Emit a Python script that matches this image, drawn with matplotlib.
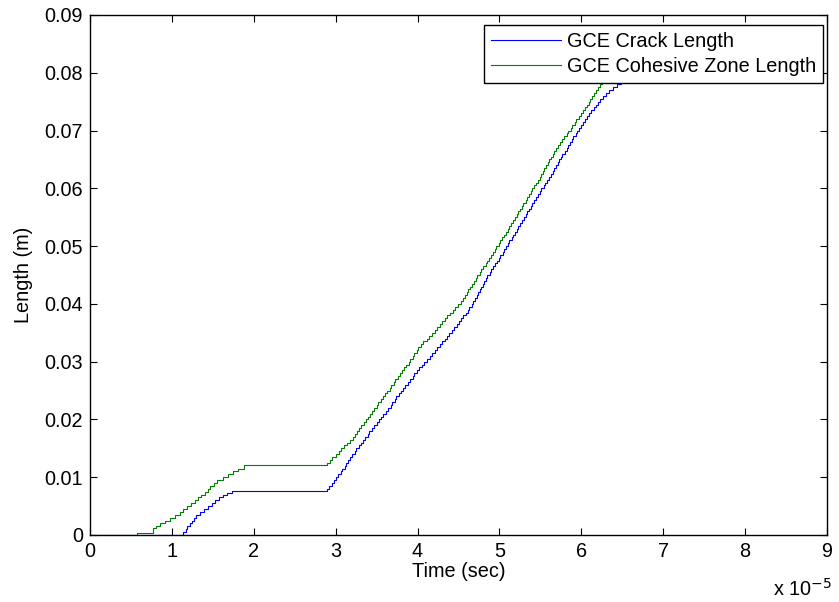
import numpy as np
from matplotlib import pyplot as plt

# time in units of 1e-5 s, lengths in mm (converted to m when plotted)
crack_t_start = [0, 1.14, 1.17, 1.19, 1.22, 1.24, 1.27, 1.30, 1.34, 1.39, 1.44, 1.49, 1.53, 1.58, 1.63, 1.67, 1.73]
crack_len_start = [0, 0.5, 1.0, 1.5, 2.0, 2.5, 3.0, 3.5, 4.0, 4.5, 5.0, 5.5, 6.0, 6.5, 7.0, 7.2, 7.7]

crack_t_grow = [2.89, 2.92, 2.95,
                2.98, 3.01, 3.03, 3.06, 3.08, 3.11, 3.13, 3.15, 3.18, 3.20,
                3.23, 3.25, 3.28, 3.31, 3.33, 3.36, 3.39, 3.41,
                3.44, 3.47, 3.50, 3.53, 3.55, 3.58, 3.61,
                3.64, 3.67, 3.69, 3.72, 3.74, 3.77, 3.80, 3.82,
                3.85, 3.88, 3.91, 3.94, 3.96, 3.99, 4.02,
                4.05, 4.08, 4.12, 4.15, 4.18, 4.21,
                4.24, 4.27, 4.30, 4.33, 4.36, 4.39, 4.42,
                4.45, 4.48, 4.51, 4.53, 4.56,
                4.59, 4.61, 4.63, 4.66, 4.68,
                4.70, 4.72, 4.74, 4.76, 4.78, 4.80, 4.81, 4.83,
                4.85, 4.88, 4.90, 4.92, 4.95, 4.97, 4.99, 5.01, 5.04,
                5.06, 5.08, 5.10, 5.12, 5.15, 5.17, 5.19, 5.21, 5.23,
                5.25, 5.28, 5.30, 5.32, 5.34, 5.36, 5.38, 5.40, 5.42, 5.45,
                5.47, 5.49, 5.51, 5.54, 5.56, 5.58, 5.61, 5.63, 5.65,
                5.67, 5.69, 5.71, 5.73, 5.75, 5.77, 5.80, 5.82, 5.84, 5.86,
                5.88, 5.90, 5.93, 5.95, 5.97, 6.00, 6.02, 6.04,
                6.07, 6.09, 6.12, 6.15, 6.18, 6.20, 6.23, 6.26,
                6.30, 6.34, 6.39, 6.43,
                6.48, 6.52, 6.56, 6.60, 6.64]
crack_len_grow = [8.0, 8.5, 9.0,
                  9.5, 10.0, 10.5, 11.0, 11.5, 12.0, 12.5, 13.0, 13.5, 14.0,
                  14.5, 15.0, 15.5, 16.0, 16.5, 17.0, 17.5, 18.0,
                  18.5, 19.0, 19.5, 20.0, 20.5, 21.0, 21.5,
                  22.0, 22.5, 23.0, 23.5, 24.0, 24.5, 25.0, 25.5,
                  26.0, 26.5, 27.0, 27.5, 28.0, 28.5, 29.0,
                  29.5, 30.0, 30.5, 31.0, 31.5, 32.0,
                  32.5, 33.0, 33.5, 34.0, 34.5, 35.0, 35.5,
                  36.0, 36.5, 37.0, 37.5, 38.0,
                  38.5, 39.0, 39.5, 40.0, 40.5,
                  41.0, 41.5, 42.0, 42.5, 43.0, 43.5, 44.0, 44.5,
                  45.0, 45.5, 46.0, 46.5, 47.0, 47.5, 48.0, 48.5, 49.0,
                  49.5, 50.0, 50.5, 51.0, 51.5, 52.0, 52.5, 53.0, 53.5,
                  54.0, 54.5, 55.0, 55.5, 56.0, 56.5, 57.0, 57.5, 58.0, 58.5,
                  59.0, 59.5, 60.0, 60.5, 61.0, 61.5, 62.0, 62.5, 63.0,
                  63.5, 64.0, 64.5, 65.0, 65.5, 66.0, 66.5, 67.0, 67.5, 68.0,
                  68.5, 69.0, 69.5, 70.0, 70.5, 71.0, 71.5, 72.0,
                  72.5, 73.0, 73.5, 74.0, 74.5, 75.0, 75.5, 76.0,
                  76.5, 77.0, 77.5, 78.0,
                  78.5, 79.0, 79.5, 80.0, 80.0]

czone_t_start = [0, 0.57, 0.77, 0.81, 0.86, 0.92, 0.98, 1.04, 1.10, 1.14, 1.19, 1.23, 1.28,
                 1.32, 1.36, 1.40, 1.44, 1.47, 1.51, 1.55, 1.62, 1.68, 1.75, 1.81, 1.88]
czone_len_start = [0, 0.4, 1.2, 1.5, 2.0, 2.5, 3.0, 3.5, 4.0, 4.5, 5.0, 5.5, 6.0,
                   6.5, 7.0, 7.5, 8.0, 8.5, 9.0, 9.5, 10.0, 10.5, 11.0, 11.5, 12.2]

czone_t_grow = [2.89, 2.93, 2.96,
                3.00, 3.04, 3.07, 3.10, 3.14, 3.17, 3.21,
                3.24, 3.26, 3.29, 3.31, 3.34, 3.37, 3.39, 3.42,
                3.44, 3.47, 3.50, 3.52, 3.55, 3.58, 3.60,
                3.63, 3.66, 3.68, 3.71, 3.73, 3.76, 3.79, 3.81,
                3.84, 3.86, 3.89, 3.91, 3.94, 3.96, 3.99, 4.01,
                4.04, 4.07, 4.11, 4.14, 4.18, 4.21,
                4.24, 4.27, 4.30, 4.33, 4.36, 4.40, 4.43,
                4.46, 4.49, 4.53,
                4.55, 4.58, 4.60, 4.62, 4.64,
                4.66, 4.69, 4.71, 4.73, 4.76, 4.78, 4.80, 4.83,
                4.85, 4.87, 4.90, 4.92, 4.94, 4.96, 4.99, 5.01, 5.03,
                5.05, 5.08, 5.10, 5.12, 5.14, 5.16, 5.19, 5.21, 5.23,
                5.25,
                5.27, 5.29, 5.32, 5.34, 5.36, 5.38, 5.40, 5.42, 5.45,
                5.47, 5.49, 5.51, 5.53, 5.55, 5.57, 5.59, 5.61, 5.63, 5.65,
                5.67, 5.69, 5.72, 5.74, 5.77, 5.79, 5.82, 5.84,
                5.87, 5.89, 5.92, 5.94, 5.97, 5.99, 6.02, 6.04,
                6.07, 6.09, 6.11, 6.13, 6.16, 6.18, 6.20, 6.23, 6.25,
                6.28, 6.31, 6.34, 6.37, 6.40, 6.44]
czone_len_grow = [12.5, 13.0, 13.5,
                  14.0, 14.5, 15.0, 15.5, 16.0, 16.5, 17.0,
                  17.5, 18.0, 18.5, 19.0, 19.5, 20.0, 20.5, 21.0,
                  21.5, 22.0, 22.5, 23.0, 23.5, 24.0, 24.5,
                  25.0, 25.5, 26.0, 26.5, 27.0, 27.5, 28.0, 28.5,
                  29.0, 29.5, 30.0, 30.5, 31.0, 31.5, 32.0, 32.5,
                  33.0, 33.5, 34.0, 34.5, 35.0, 35.5,
                  36.0, 36.5, 37.0, 37.5, 38.0, 38.5, 39.0,
                  39.5, 40.0, 40.5,
                  41.0, 41.5, 42.0, 42.5, 43.0,
                  43.5, 44.0, 44.5, 45.0, 45.5, 46.0, 46.5, 47.0,
                  47.5, 48.0, 48.5, 49.0, 49.5, 50.0, 50.5, 51.0, 51.5,
                  52.0, 52.5, 53.0, 53.5, 54.0, 54.5, 55.0, 55.5, 56.0,
                  56.5,
                  57.0, 57.5, 58.0, 58.5, 59.0, 59.5, 60.0, 60.5, 61.0,
                  61.5, 62.0, 62.5, 63.0, 63.5, 64.0, 64.5, 65.0, 65.5, 66.0,
                  66.5, 67.0, 67.5, 68.0, 68.5, 69.0, 69.5, 70.0,
                  70.5, 71.0, 71.5, 72.0, 72.5, 73.0, 73.5, 74.0,
                  74.5, 75.0, 75.5, 76.0, 76.5, 77.0, 77.5, 78.0, 78.5,
                  79.0, 79.5, 80.0, 80.5, 81.0, 81.0]

labels = ['GCE Crack Length', 'GCE Cohesive Zone Length']
xticks = [0, 1, 2, 3, 4, 5, 6, 7, 8, 9]
yticks = [0, 0.01, 0.02, 0.03, 0.04, 0.05, 0.06, 0.07, 0.08, 0.09]
ytick_labels = ['0', '0.01', '0.02', '0.03', '0.04', '0.05', '0.06', '0.07', '0.08', '0.09']

plt.rcParams['font.family'] = ['Liberation Sans', 'DejaVu Sans']
plt.rcParams['font.size'] = 14.3

fig = plt.figure(figsize=(8.39, 6.02), dpi=100)
ax = fig.add_axes([90 / 839, 67 / 602, 737 / 839, 520 / 602])

crack_t = np.array(crack_t_start + crack_t_grow)
crack_len = np.array(crack_len_start + crack_len_grow) / 1000.0
czone_t = np.array(czone_t_start + czone_t_grow)
czone_len = np.array(czone_len_start + czone_len_grow) / 1000.0

ax.plot(crack_t, crack_len, color=(0, 0, 1), lw=0.8, drawstyle='steps-post')
ax.plot(czone_t, czone_len, color=(0, 0.5, 0), lw=0.8, drawstyle='steps-post')

ax.set_xlim(0, 9)
ax.set_ylim(0, 0.09)
ax.set_xticks(xticks)
ax.set_xticklabels([str(v) for v in xticks])
ax.set_yticks(yticks)
ax.set_yticklabels(ytick_labels)
ax.tick_params(direction='in', top=True, right=True, length=5, width=0.8, pad=5)
for s in ax.spines.values():
    s.set_linewidth(1.0)

ax.set_xlabel('Time (sec)', labelpad=1)
ax.set_ylabel('Length (m)', labelpad=8)
fig.text(832 / 839, 1 - 596 / 602, r'x 10$^{-5}$', ha='right', va='baseline')

leg = ax.legend(labels, loc='upper right', bbox_to_anchor=(733 / 737, 510 / 520),
                borderaxespad=0, fancybox=False, framealpha=1, edgecolor='black',
                handlelength=3.5, handletextpad=0.3, borderpad=0.35, labelspacing=0.3)
leg.get_frame().set_linewidth(1.0)

fig.savefig('out.png', dpi=100)
